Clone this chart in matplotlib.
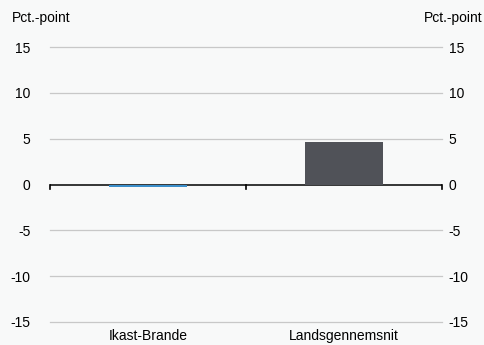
import matplotlib.pyplot as plt
import matplotlib.transforms as mtransforms

plt.rcParams["font.family"] = ["Liberation Sans", "DejaVu Sans"]

# chart data
categories = ["Ikast-Brande", "Landsgennemsnit"]
values = [-0.25, 4.6]
bar_colors = ["#3b8fcb", "#505258"]
yticks = [-15, -10, -5, 0, 5, 10, 15]

bg = "#f8f9f9"
fig = plt.figure(figsize=(4.85, 3.45), dpi=100, facecolor=bg)
ax = fig.add_axes([0.103, 0.0667, 0.808, 0.797], facecolor=bg)

x = list(range(len(categories)))
ax.bar(x, values, width=0.4, color=bar_colors, zorder=5)

ax.set_xlim(-0.5, len(categories) - 0.5)
ax.set_ylim(-15, 15)

# gridlines
for t in yticks:
    if t != 0:
        ax.axhline(t, color="#c8c8c8", linewidth=0.9, zorder=1, clip_on=False)
ax.axhline(0, color="black", linewidth=1.1, zorder=4)

# small ticks on the zero line
for xt in [-0.5, 0.5, 1.5]:
    ax.plot([xt, xt], [0, -0.45], color="black", linewidth=1.2, zorder=4,
            clip_on=False)

for s in ax.spines.values():
    s.set_visible(False)
ax.set_xticks([])
ax.set_yticks(yticks)
ax.set_yticklabels([str(t) for t in yticks], fontsize=10)
ax.tick_params(axis="y", length=0, pad=14)

# right side labels
ax2 = ax.twinx()
ax2.set_ylim(ax.get_ylim())
ax2.set_yticks(yticks)
ax2.set_yticklabels([str(t) for t in yticks], fontsize=10)
ax2.tick_params(axis="y", length=0, pad=5)
for s in ax2.spines.values():
    s.set_visible(False)

# category labels below the plot
trans = mtransforms.blended_transform_factory(ax.transData, ax.transAxes)
for xi, c in zip(x, categories):
    ax.text(xi, -0.05, c, transform=trans, ha="center", va="center", fontsize=10)

fig.text(12 / 485, 1 - 18 / 345, "Pct.-point", ha="left", va="center", fontsize=10)
fig.text(483 / 485, 1 - 18 / 345, "Pct.-point", ha="right", va="center", fontsize=10)

fig.savefig("out.png", dpi=100, facecolor=bg)
